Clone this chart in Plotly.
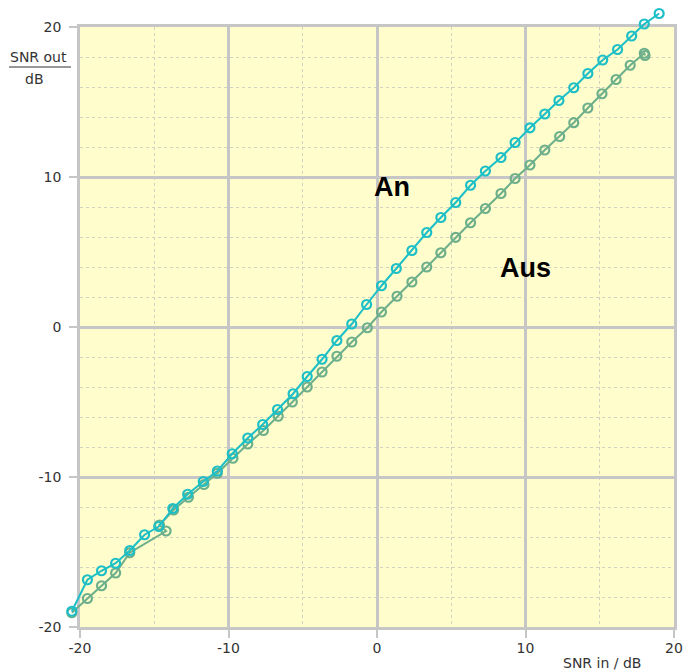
import plotly.graph_objects as go

# ---- data ----
snr_in_an = [-20.55, -19.5, -18.55, -17.6, -16.65, -15.65, -14.7, -13.75, -12.75, -11.7,
             -10.75, -9.75, -8.7, -7.7, -6.7, -5.65, -4.7, -3.7, -2.7, -1.7,
             -0.7, 0.3, 1.3, 2.35, 3.35, 4.3, 5.3, 6.3, 7.3, 8.35,
             9.3, 10.3, 11.3, 12.25, 13.25, 14.2, 15.2, 16.2, 17.15, 18.0, 19.0]
snr_out_an = [-18.95, -16.85, -16.25, -15.75, -14.9, -13.85, -13.3, -12.1, -11.15, -10.3,
              -9.6, -8.45, -7.4, -6.5, -5.5, -4.45, -3.3, -2.15, -0.9, 0.2,
              1.5, 2.75, 3.9, 5.1, 6.3, 7.3, 8.3, 9.45, 10.4, 11.3,
              12.3, 13.28, 14.2, 15.1, 15.95, 16.9, 17.8, 18.5, 19.4, 20.2, 20.9]

snr_in_aus = [-20.55, -19.5, -18.55, -17.6, -16.65, -14.2, -14.65, -13.7, -12.7, -11.65,
              -10.75, -9.7, -8.7, -7.65, -6.65, -5.7, -4.7, -3.7, -2.7, -1.7,
              -0.65, 0.3, 1.35, 2.35, 3.35, 4.3, 5.3, 6.3, 7.3, 8.35,
              9.3, 10.3, 11.3, 12.3, 13.25, 14.2, 15.15, 16.1, 17.05, 18.0, 18.05]
snr_out_aus = [-19.05, -18.1, -17.25, -16.4, -15.05, -13.6, -13.2, -12.2, -11.35, -10.5,
               -9.75, -8.75, -7.8, -6.9, -5.95, -5.0, -4.0, -3.0, -1.95, -1.0,
               -0.05, 1.0, 2.05, 3.0, 4.0, 4.95, 5.98, 6.95, 7.9, 8.9,
               9.9, 10.8, 11.8, 12.7, 13.62, 14.6, 15.55, 16.5, 17.45, 18.25, 18.1]

series_names = ["An", "Aus"]
tick_values = [-20, -10, 0, 10, 20]
tick_labels = ["-20", "-10", "0", "10", "20"]
axis_min, axis_max = -20, 20
x_title = "SNR in / dB"
y_title_top = "SNR out"
y_title_bottom = "dB"

# ---- styles ----
CYAN = "#1DBFC7"
GREEN = "#6DAF8B"
GRID = "#C6C6C6"
MINOR = "#D2D2C2"
BG = "#FEFDCB"
FONT = "DejaVu Sans"
TXT = "#333333"

W, H = 684, 672
# paper area (pixels) and frame (pixels)
PL, PR, PT, PB = 60, 684, 7, 647
FL, FR, FT, FB = 80, 674, 27, 627
pw, ph = PR - PL, PB - PT


def px_x(p):
    return (p - PL) / pw


def px_y(p):
    return 1 - (p - PT) / ph


xdom = [px_x(FL), px_x(FR)]
ydom = [px_y(FB), px_y(FT)]
ux = (FR - FL) / (axis_max - axis_min)
uy = (FB - FT) / (axis_max - axis_min)
x2range = [axis_min - (FL - PL) / ux, axis_max + (PR - FR) / ux]
y2range = [axis_min - (PB - FB) / uy, axis_max + (FT - PT) / uy]

fig = go.Figure()
fig.add_trace(go.Scatter(
    x=snr_in_aus, y=snr_out_aus, mode="lines+markers", name=series_names[1],
    xaxis="x2", yaxis="y2",
    line=dict(color=GREEN, width=2),
    marker=dict(symbol="circle-open", size=9, color=GREEN, line=dict(width=2.2, color=GREEN)),
    cliponaxis=False, showlegend=False))
fig.add_trace(go.Scatter(
    x=snr_in_an, y=snr_out_an, mode="lines+markers", name=series_names[0],
    xaxis="x2", yaxis="y2",
    line=dict(color=CYAN, width=2),
    marker=dict(symbol="circle-open", size=9, color=CYAN, line=dict(width=2.2, color=CYAN)),
    cliponaxis=False, showlegend=False))

axis_common = dict(
    range=[axis_min, axis_max], tickmode="array", tickvals=tick_values, ticktext=tick_labels,
    showgrid=True, gridcolor=GRID, gridwidth=2.5,
    showline=True, linecolor=GRID, linewidth=2.5, mirror=True,
    zeroline=False, automargin=False,
    ticks="outside", ticklen=8, tickwidth=2, tickcolor=GRID,
    tickfont=dict(family=FONT, size=14, color=TXT),
    fixedrange=True,
)

fig.update_layout(
    width=W, height=H, autosize=False,
    margin=dict(l=PL, r=W - PR, t=PT, b=H - PB, pad=0, autoexpand=False),
    paper_bgcolor="#FFFFFF", plot_bgcolor="rgba(0,0,0,0)",
    xaxis=dict(**axis_common, domain=xdom, anchor="y",
               minor=dict(dtick=5, tick0=0, showgrid=True, gridcolor=MINOR,
                          griddash="dot", gridwidth=1.2, ticks=""),
               ticklabelstandoff=-2),
    yaxis=dict(**axis_common, domain=ydom, anchor="x",
               minor=dict(dtick=2, tick0=0, showgrid=True, gridcolor=MINOR,
                          griddash="dot", gridwidth=1.2, ticks=""),
               ticklabelstandoff=5),
    xaxis2=dict(range=x2range, domain=[0, 1], anchor="y2", visible=False,
                fixedrange=True, automargin=False),
    yaxis2=dict(range=y2range, domain=[0, 1], anchor="x2", visible=False,
                fixedrange=True, automargin=False),
)

annotations = [
    dict(x=1.0, y=9.35, xref="x", yref="y", text="<b>An</b>", showarrow=False,
         font=dict(family="Liberation Sans", size=27, color="#000000")),
    dict(x=9.97, y=3.95, xref="x", yref="y", text="<b>Aus</b>", showarrow=False,
         font=dict(family="Liberation Sans", size=27, color="#000000")),
    dict(x=px_x(643), y=px_y(663), xref="paper", yref="paper", text=x_title, showarrow=False,
         xanchor="right", yanchor="middle", font=dict(family=FONT, size=14, color=TXT)),
    dict(x=px_x(38.5), y=px_y(57), xref="paper", yref="paper", text=y_title_top, showarrow=False,
         xanchor="center", yanchor="middle", font=dict(family=FONT, size=14, color=TXT)),
    dict(x=px_x(34), y=px_y(79), xref="paper", yref="paper", text=y_title_bottom, showarrow=False,
         xanchor="center", yanchor="middle", font=dict(family=FONT, size=14, color=TXT)),
]

shapes = [
    dict(type="rect", xref="x", yref="y", x0=axis_min, x1=axis_max, y0=axis_min, y1=axis_max,
         fillcolor=BG, line=dict(width=0), layer="below"),
    dict(type="line", xref="paper", yref="paper",
         x0=px_x(9), x1=px_x(71), y0=px_y(67), y1=px_y(67),
         line=dict(color=TXT, width=1.2)),
]

fig.update_layout(annotations=annotations, shapes=shapes)

fig.write_html("out.html")
